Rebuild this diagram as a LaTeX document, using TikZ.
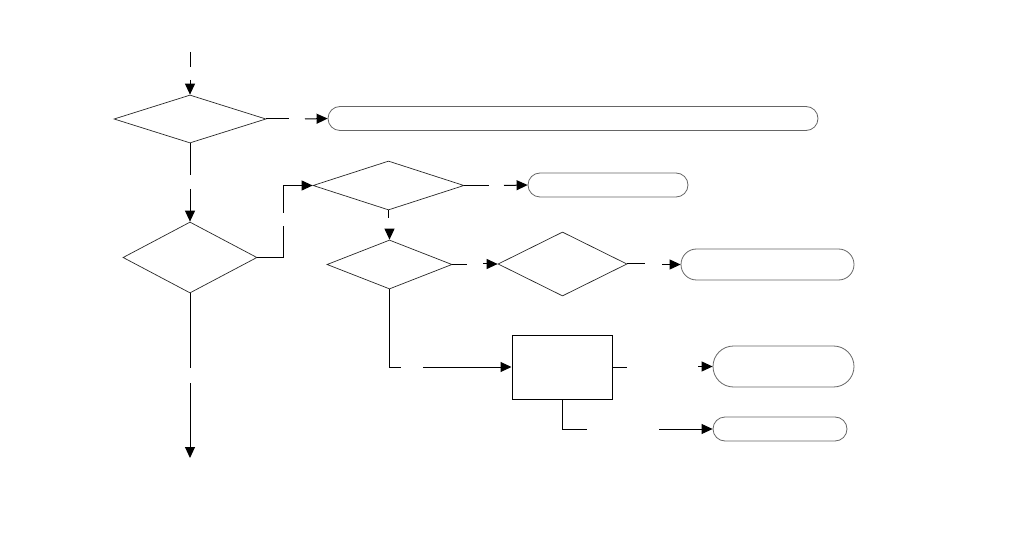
\documentclass[tikz,border=0pt]{standalone}
\usetikzlibrary{shapes.geometric,shapes.misc,arrows.meta}
\begin{document}
\begin{tikzpicture}[x=1pt,y=-1pt,
  dia/.style={diamond,draw=black!85,line width=0.7pt,inner sep=0pt},
  pill/.style={rounded rectangle,draw=black!60,line width=0.8pt,inner sep=0pt},
  box/.style={rectangle,draw=black,line width=1pt,inner sep=0pt},
  conn/.style={draw=black,line width=1pt},
  arr/.style={conn,-{Triangle[length=11pt,width=10pt]}}]
\useasboundingbox (0,0) rectangle (1026,540);
% nodes
\node[dia,minimum width=152pt,minimum height=48pt,aspect=3.17] (d1) at (190,119) {};
\node[dia,minimum width=134pt,minimum height=71pt,aspect=1.89] (d2) at (190,257.5) {};
\node[dia,minimum width=151pt,minimum height=49pt,aspect=3.08] (d3) at (388.5,185.5) {};
\node[dia,minimum width=125pt,minimum height=49pt,aspect=2.55] (d4) at (389.5,264.5) {};
\node[dia,minimum width=129pt,minimum height=64pt,aspect=2.02] (d5) at (562.5,264) {};
\node[pill,minimum width=490pt,minimum height=24pt] (p1) at (573,118.5) {};
\node[pill,minimum width=160pt,minimum height=24pt] (p2) at (608,185) {};
\node[pill,minimum width=173pt,minimum height=31pt] (p3) at (767.5,264.5) {};
\node[pill,minimum width=141pt,minimum height=41pt] (p4) at (783.5,366.5) {};
\node[pill,minimum width=134pt,minimum height=24pt] (p5) at (780,429) {};
\node[box,minimum width=100pt,minimum height=64pt] (r1) at (562,367) {};
% gap coordinates
\coordinate (s0) at (190,52); \coordinate (s0e) at (190,67); \coordinate (s0b) at (190,80);
\coordinate (a1) at (289,119); \coordinate (a1b) at (305,119);
\coordinate (b1) at (190,175); \coordinate (b1b) at (190,189);
\coordinate (c1) at (283,257.5); \coordinate (c2) at (283,226); \coordinate (c3) at (283,213); \coordinate (c4) at (283,185.5);
\coordinate (e1) at (489,185.5); \coordinate (e1b) at (504,185.5);
\coordinate (f1) at (388.5,218); \coordinate (f1b) at (389.5,231);
\coordinate (g1) at (467,264.5); \coordinate (g1b) at (483,264);
\coordinate (h1) at (645,264); \coordinate (h1b) at (662,264.5);
\coordinate (i1) at (389.5,367); \coordinate (i2) at (401,367); \coordinate (i2b) at (423,367);
\coordinate (j1) at (627,367); \coordinate (j1b) at (698,366.5);
\coordinate (k1) at (562,429); \coordinate (k2) at (587,429); \coordinate (k2b) at (659,429);
\coordinate (l1) at (190,368); \coordinate (l1b) at (190,383); \coordinate (l2) at (190,458);
% connectors
\draw[conn] (s0) -- (s0e);
\draw[arr] (s0b) -- (d1.north);
\draw[conn] (d1.east) -- (a1);
\draw[arr] (a1b) -- (p1.west);
\draw[conn] (d1.south) -- (b1);
\draw[arr] (b1b) -- (d2.north);
\draw[conn] (d2.east) -- (c1) -- (c2);
\draw[arr] (c3) -- (c4) -- (d3.west);
\draw[conn] (d3.east) -- (e1);
\draw[arr] (e1b) -- (p2.west);
\draw[conn] (d3.south) -- (f1);
\draw[arr] (f1b) -- (d4.north);
\draw[conn] (d4.east) -- (g1);
\draw[arr] (g1b) -- (d5.west);
\draw[conn] (d5.east) -- (h1);
\draw[arr] (h1b) -- (p3.west);
\draw[conn] (d4.south) -- (i1) -- (i2);
\draw[arr] (i2b) -- (r1.west);
\draw[conn] (r1.east) -- (j1);
\draw[arr] (j1b) -- (p4.west);
\draw[conn] (r1.south) -- (k1) -- (k2);
\draw[arr] (k2b) -- (p5.west);
\draw[conn] (d2.south) -- (l1);
\draw[arr] (l1b) -- (l2);
\end{tikzpicture}
\end{document}
